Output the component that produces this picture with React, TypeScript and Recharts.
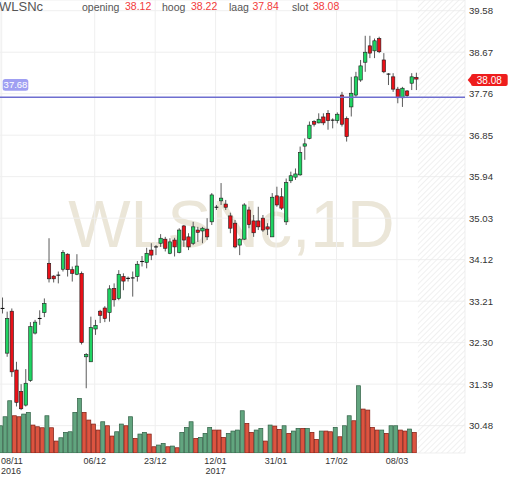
import React from 'react';
import { ComposedChart, Bar, XAxis, YAxis, CartesianGrid, ReferenceLine, ReferenceArea } from 'recharts';

const symbol = 'WLSNc';
const period = '1D';

const dates = [
  '08/11/2016','09/11/2016','10/11/2016','11/11/2016','14/11/2016','15/11/2016','16/11/2016','17/11/2016','18/11/2016','21/11/2016',
  '22/11/2016','23/11/2016','24/11/2016','25/11/2016','28/11/2016','29/11/2016','30/11/2016','01/12/2016','02/12/2016','05/12/2016',
  '06/12/2016','07/12/2016','08/12/2016','09/12/2016','12/12/2016','13/12/2016','14/12/2016','15/12/2016','16/12/2016','19/12/2016',
  '20/12/2016','21/12/2016','22/12/2016','23/12/2016','27/12/2016','28/12/2016','29/12/2016','30/12/2016','02/01/2017','03/01/2017',
  '04/01/2017','05/01/2017','06/01/2017','09/01/2017','10/01/2017','11/01/2017','12/01/2017','13/01/2017','16/01/2017','17/01/2017',
  '18/01/2017','19/01/2017','20/01/2017','23/01/2017','24/01/2017','25/01/2017','26/01/2017','27/01/2017','30/01/2017','31/01/2017',
  '01/02/2017','02/02/2017','03/02/2017','06/02/2017','07/02/2017','08/02/2017','09/02/2017','10/02/2017','13/02/2017','14/02/2017',
  '15/02/2017','16/02/2017','17/02/2017','20/02/2017','21/02/2017','22/02/2017','23/02/2017','24/02/2017','27/02/2017','28/02/2017',
  '01/03/2017','02/03/2017','03/03/2017','06/03/2017','07/03/2017','08/03/2017','09/03/2017','10/03/2017','13/03/2017','14/03/2017',
];

const opens = [
  33.05, 32.07, 32.99, 31.70, 31.23, 30.93, 31.47, 32.51, 32.83, 32.96,
  34.04, 33.76, 33.78, 33.91, 34.24, 33.90, 33.80, 33.82, 31.99, 31.88,
  32.60, 32.99, 33.06, 32.96, 33.49, 33.27, 33.75, 33.71, 33.72, 33.75,
  34.08, 34.06, 34.33, 34.40, 34.48, 34.57, 34.26, 34.55, 34.28, 34.86,
  34.62, 34.48, 34.77, 34.75, 34.79, 34.95, 35.27, 35.41, 35.34, 35.08,
  34.92, 34.44, 34.57, 35.21, 34.97, 34.97, 35.03, 34.84, 34.62, 35.52,
  35.50, 34.95, 35.85, 35.93, 35.98, 36.61, 36.78, 37.15, 37.12, 37.25,
  37.33, 37.18, 37.17, 37.73, 37.22, 37.47, 37.73, 38.06, 38.45, 38.81,
  38.70, 38.97, 38.50, 38.19, 38.13, 37.86, 37.67, 37.82, 37.99, 38.12,
];
const highs = [
  33.29, 32.98, 33.05, 31.88, 31.39, 31.72, 32.75, 32.80, 33.01, 33.27,
  34.59, 33.78, 33.86, 34.33, 34.26, 33.97, 34.24, 33.86, 32.07, 32.87,
  32.80, 33.02, 33.10, 33.56, 33.60, 33.89, 33.82, 33.75, 33.86, 34.09,
  34.20, 34.38, 34.48, 34.44, 34.68, 34.62, 34.59, 34.60, 34.81, 34.88,
  34.70, 34.95, 34.84, 34.84, 35.03, 35.58, 35.32, 35.80, 35.43, 35.15,
  34.99, 34.59, 35.36, 35.28, 35.10, 35.28, 35.10, 34.92, 35.58, 35.72,
  35.69, 35.90, 36.05, 36.12, 36.60, 36.78, 37.15, 37.18, 37.33, 37.33,
  37.40, 37.22, 37.35, 37.80, 37.26, 38.13, 38.24, 38.50, 39.03, 39.03,
  38.97, 39.01, 38.65, 38.21, 38.21, 37.91, 37.91, 37.84, 38.21, 38.22,
];
const lows = [
  32.94, 31.99, 31.55, 30.90, 30.82, 30.90, 31.44, 32.48, 32.69, 32.86,
  33.62, 33.62, 33.60, 33.86, 33.75, 33.64, 33.78, 32.26, 31.30, 31.88,
  32.47, 32.73, 32.75, 32.76, 33.09, 33.23, 33.45, 33.64, 33.31, 33.64,
  33.97, 33.93, 34.11, 34.22, 34.40, 34.30, 34.24, 34.19, 34.26, 34.40,
  34.33, 34.44, 34.51, 34.48, 34.55, 34.88, 35.21, 35.32, 35.21, 34.70,
  34.37, 34.22, 34.55, 34.81, 34.62, 34.77, 34.73, 34.66, 34.62, 35.28,
  35.21, 34.88, 35.80, 35.87, 35.96, 36.31, 36.76, 37.04, 37.11, 37.07,
  36.97, 37.00, 37.11, 37.04, 36.71, 37.26, 37.69, 38.02, 38.24, 38.54,
  38.54, 38.65, 38.21, 37.95, 37.80, 37.55, 37.47, 37.69, 37.84, 37.84,
];
const closes = [
  33.05, 32.83, 31.66, 30.99, 30.85, 31.41, 32.65, 32.75, 32.83, 33.16,
  33.70, 33.70, 33.78, 34.28, 33.90, 33.82, 33.98, 32.30, 32.04, 32.63,
  32.68, 32.90, 32.83, 33.48, 33.24, 33.80, 33.65, 33.71, 33.72, 34.02,
  34.08, 34.26, 34.22, 34.40, 34.59, 34.37, 34.51, 34.40, 34.77, 34.55,
  34.40, 34.84, 34.72, 34.81, 34.62, 35.54, 35.27, 35.47, 35.27, 34.81,
  34.40, 34.57, 35.32, 34.89, 34.71, 34.84, 34.77, 34.79, 35.49, 35.32,
  35.25, 35.81, 35.96, 36.00, 36.47, 36.66, 37.07, 37.09, 37.20, 37.12,
  37.17, 37.18, 37.31, 37.09, 36.82, 37.77, 38.13, 38.37, 38.67, 38.65,
  38.92, 38.68, 38.24, 38.19, 37.86, 37.67, 37.88, 37.72, 38.13, 38.08,
];
const volumes = [
  276, 366, 526, 376, 366, 393, 410, 283, 266, 256,
  376, 256, 123, 156, 210, 216, 410, 550, 410, 333,
  293, 233, 316, 276, 173, 216, 293, 276, 366, 150,
  193, 210, 193, 66, 83, 100, 66, 73, 56, 210,
  260, 316, 150, 160, 200, 260, 233, 233, 160, 200,
  223, 233, 426, 300, 210, 233, 250, 123, 283, 273,
  240, 276, 200, 223, 250, 250, 250, 210, 140, 223,
  223, 216, 260, 166, 276, 376, 326, 676, 443, 433,
  260, 233, 233, 200, 276, 276, 233, 223, 243, 210,
];
const volumeDirection = [
  'u','u','u','d','d','u','u','d','d','d',
  'u','d','d','u','u','u','u','u','d','d',
  'd','d','u','d','d','u','u','d','u','d',
  'u','u','d','d','u','u','d','u','d','u',
  'u','u','d','u','u','u','d','d','d','u',
  'u','u','u','d','d','u','u','d','u','d',
  'd','u','d','u','u','d','u','d','d','u',
  'd','d','u','d','u','u','d','u','d','d',
  'd','d','u','d','u','u','d','d','u','d',
];

const priceTicks = [39.58, 38.67, 37.76, 36.85, 35.94, 35.03, 34.12, 33.21, 32.3, 31.39, 30.48];
const dateTickIndex = [0, 20, 33, 46, 59, 72, 85];
const levelPrice = 37.68;

const priceDomain = [29.88, 39.815];
const volumeDomain = [0, 4530];
const xDomain = [-0.366, 99.63];

const data = dates.map((d, i) => ({
  i,
  date: d,
  open: opens[i],
  high: highs[i],
  low: lows[i],
  close: closes[i],
  range: [lows[i], highs[i]],
  vol: volumes[i],
  volUp: volumeDirection[i] === 'u',
}));

const last = data.length - 1;
const FONT = '"Liberation Sans", Arial, sans-serif';
const GREEN = '#1fd462';
const RED = '#ea1018';

const Candle = (props: any) => {
  const { x, y, width, height, payload } = props;
  if (x == null || payload == null) return null;
  const cx = x + width / 2;
  const top = Math.min(y, y + height);
  const bot = Math.max(y, y + height);
  const span = payload.high - payload.low;
  const k = span > 0 ? (bot - top) / span : 0;
  const py = (p: number) => top + (payload.high - p) * k;
  const o = py(payload.open);
  const c = py(payload.close);
  const up = payload.close > payload.open;
  const down = payload.close < payload.open;
  const bodyTop = Math.min(o, c);
  const bodyH = Math.max(Math.abs(o - c), 0.8);
  return (
    <g>
      <line x1={cx} x2={cx} y1={top} y2={bot} stroke="#5a5a5a" strokeWidth={1} />
      {up || down ? (
        <rect x={cx - 1.7} y={bodyTop} width={3.4} height={bodyH} fill={up ? GREEN : RED} stroke="#1c1c1c" strokeWidth={0.6} />
      ) : (
        <line x1={cx - 1.9} x2={cx + 1.9} y1={o} y2={o} stroke="#111" strokeWidth={1.1} />
      )}
    </g>
  );
};

const VolumeBar = (props: any) => {
  const { x, y, width, height, payload } = props;
  if (x == null || payload == null) return null;
  const cx = x + width / 2;
  const top = Math.min(y, y + height);
  const h = Math.abs(height);
  return (
    <rect
      x={cx - 2.0}
      y={top + 0.35}
      width={4.0}
      height={Math.max(h - 0.35, 0)}
      fill={payload.volUp ? '#62a57f' : '#dc5440'}
      stroke={payload.volUp ? '#2f5f44' : '#7d1c12'}
      strokeWidth={0.7}
    />
  );
};

const DateTick = (props: any) => {
  const { x, y, payload, index } = props;
  const idx = payload.value;
  const d = dates[idx];
  if (!d) return null;
  const [dd, mm, yyyy] = d.split('/');
  const prevIdx = index > 0 ? dateTickIndex[index - 1] : -1;
  const showYear = prevIdx < 0 || dates[prevIdx].split('/')[2] !== yyyy;
  const first = index === 0;
  return (
    <g>
      <text x={first ? 1 : x} y={y + 10.8} textAnchor={first ? 'start' : 'middle'} fontSize={9} fill="#333" fontFamily={FONT}>
        {dd + '/' + mm}
      </text>
      {showYear ? (
        <text x={first ? 1 : x} y={y + 20.8} textAnchor={first ? 'start' : 'middle'} fontSize={9} fill="#333" fontFamily={FONT}>
          {yyyy}
        </text>
      ) : null}
    </g>
  );
};

const PriceTick = (props: any) => {
  const { x, y, payload } = props;
  return (
    <text x={x} y={y} dy={3.4} textAnchor="start" fontSize={9.6} fill="#333" fontFamily={FONT}>
      {Number(payload.value).toFixed(2)}
    </text>
  );
};

const LevelLabel = (props: any) => {
  const vb = props.viewBox || {};
  const lx = (vb.x || 0) + 2.7;
  const ly = (vb.y || 0) - 18.3;
  return (
    <g>
      <rect x={lx} y={ly} width={25.6} height={11.7} rx={2.5} fill="#9f9ff2" />
      <text x={lx + 12.8} y={ly + 9.2} textAnchor="middle" fontSize={9.5} fill="#fff" fontFamily={FONT}>
        {levelPrice.toFixed(2)}
      </text>
    </g>
  );
};

const LastPriceTag = (props: any) => {
  const vb = props.viewBox || {};
  const rx = (vb.x || 0) + (vb.width || 0);
  const cy = (vb.y || 0) + 0.9;
  const bx = rx + 6;
  return (
    <g>
      <path d={`M${rx + 2.7},${cy} L${bx},${cy - 4} L${bx},${cy + 4} Z`} fill="#ee1d1d" />
      <rect x={bx} y={cy - 6.1} width={36.7} height={12.2} rx={2} fill="#ee1d1d" />
      <text x={bx + 18.3} y={cy + 3.6} textAnchor="middle" fontSize={10} fill="#fff" fontFamily={FONT}>
        {closes[last].toFixed(2)}
      </text>
    </g>
  );
};

export default function App() {
  const lastBar = data[last];
  const headerLabel = { fontSize: 10.5, fill: '#555', fontFamily: FONT } as const;
  const headerValue = { fontSize: 10.5, fill: '#f23a3a', fontFamily: FONT } as const;
  return (
    <div style={{ position: 'absolute', left: 0, top: 0, width: 512, height: 477, background: '#fff', overflow: 'hidden' }}>
      <svg width={512} height={477} style={{ position: 'absolute', left: 0, top: 0 }}>
        <defs>
          <pattern id="hatch" patternUnits="userSpaceOnUse" width={4} height={4} patternTransform="rotate(45)">
            <line x1={0} y1={0} x2={0} y2={4} stroke="#e9e9e9" strokeWidth={1.4} />
          </pattern>
        </defs>
        <text x={231.5} y={246.7} textAnchor="middle" fontSize={66} fill="#ebe6d8" fontFamily={FONT}>
          {symbol + ',' + period}
        </text>
      </svg>
      <div style={{ position: 'absolute', left: 0, top: 0 }}>
        <ComposedChart width={512} height={477} data={data} margin={{ top: 0, right: 0, bottom: 0, left: 0 }}>
          <CartesianGrid stroke="#efefef" strokeWidth={1} />
          <XAxis
            dataKey="i"
            type="number"
            domain={xDomain}
            ticks={dateTickIndex}
            interval={0}
            height={24}
            axisLine={false}
            tickLine={false}
            tickSize={0}
            tickMargin={0}
            tick={<DateTick />}
            allowDataOverflow
          />
          <YAxis
            orientation="right"
            domain={priceDomain}
            ticks={priceTicks}
            interval={0}
            width={47}
            axisLine={false}
            tickLine={false}
            tickSize={0}
            tickMargin={4}
            tick={<PriceTick />}
            allowDataOverflow
          />
          <YAxis yAxisId="vol" hide domain={volumeDomain} allowDataOverflow />
          <ReferenceArea x1={last + 0.5} x2={xDomain[1]} fill="url(#hatch)" fillOpacity={1} stroke="none" ifOverflow="visible" />
          <Bar yAxisId="vol" dataKey="vol" barSize={4} shape={<VolumeBar />} isAnimationActive={false} />
          <Bar dataKey="range" barSize={4} shape={<Candle />} isAnimationActive={false} />
          <ReferenceLine y={levelPrice} stroke="#6e6ecf" strokeWidth={1.5} label={(p: any) => <LevelLabel {...p} />} ifOverflow="visible" />
          <ReferenceLine y={closes[last]} stroke="none" strokeOpacity={0} label={(p: any) => <LastPriceTag {...p} />} ifOverflow="visible" />
        </ComposedChart>
      </div>
      <svg width={512} height={20} style={{ position: 'absolute', left: 0, top: 0, pointerEvents: 'none' }}>
        <text x={-1} y={10.5} fontSize={13} fill="#555" fontFamily={FONT}>{symbol}</text>
        <text x={82} y={11} {...headerLabel}>opening</text>
        <text x={125} y={10} {...headerValue}>{lastBar.open.toFixed(2)}</text>
        <text x={162} y={11} {...headerLabel}>hoog</text>
        <text x={191} y={10} {...headerValue}>{lastBar.high.toFixed(2)}</text>
        <text x={229} y={11} {...headerLabel}>laag</text>
        <text x={252.5} y={10} {...headerValue}>{lastBar.low.toFixed(2)}</text>
        <text x={292} y={11} {...headerLabel}>slot</text>
        <text x={313} y={10} {...headerValue}>{lastBar.close.toFixed(2)}</text>
      </svg>
    </div>
  );
}
